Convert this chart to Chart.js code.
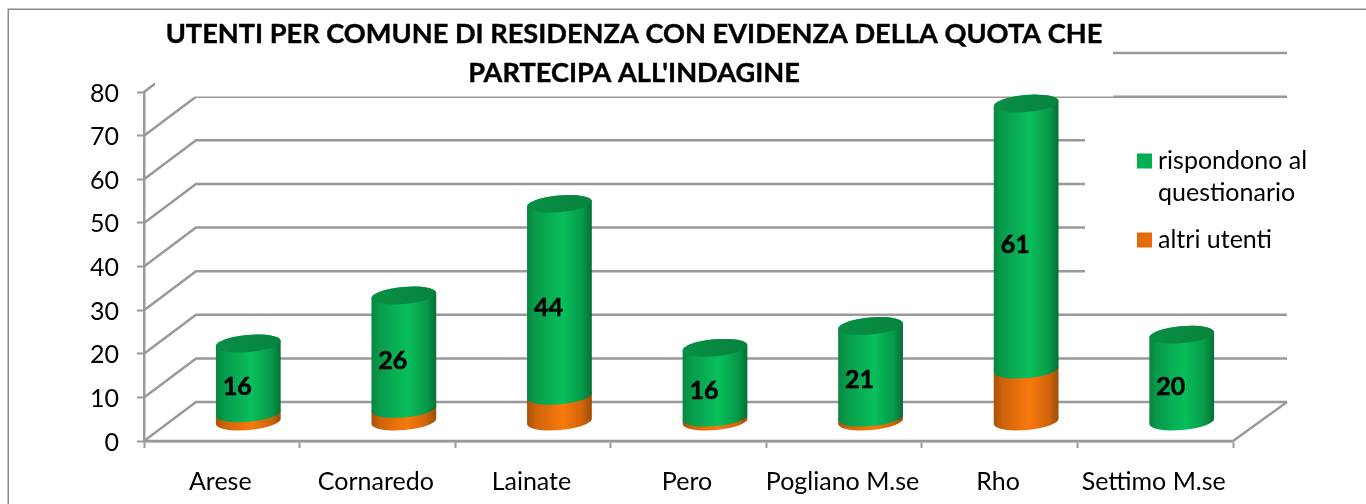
<!DOCTYPE html>
<html><head><meta charset="utf-8">
<style>html,body{margin:0;padding:0;background:#fff;overflow:hidden}canvas{display:block}</style>
<script src="https://cdn.jsdelivr.net/npm/chart.js@4"></script></head>
<body><canvas id="c" width="1366" height="504"></canvas>
<script>
const categories=["Arese","Cornaredo","Lainate","Pero","Pogliano M.se","Rho","Settimo M.se"];
const altriUtenti=[2,3,6,1,1,12,0];
const rispondono=[16,26,44,16,21,61,20];
const titleLines=["UTENTI PER COMUNE DI RESIDENZA CON EVIDENZA DELLA QUOTA CHE","PARTECIPA ALL'INDAGINE"];
const legendLines=[["rispondono al","questionario"],["altri utenti"]];
const FONT='Lato, Carlito, "Open Sans", sans-serif';
const GRID='#999999';
const DX=52, DY=-39, RY=8.5, TILT=-5*Math.PI/180;

function grad(ctx,l,r,stops){const g=ctx.createLinearGradient(l,0,r,0);stops.forEach(s=>g.addColorStop(s[0],s[1]));return g;}
const greenStops=[[0,'#07853f'],[0.12,'#089a4b'],[0.55,'#08bf5b'],[0.85,'#069a49'],[1,'#056f35']];
const orangeStops=[[0,'#a9520a'],[0.15,'#d0640a'],[0.55,'#f9790c'],[0.85,'#d0640a'],[1,'#9c4c08']];

function segment(ctx,cx,rx,yBot,yTop,fill){
  ctx.beginPath();
  ctx.ellipse(cx,yBot,rx,RY,TILT,Math.PI,0,true);
  ctx.ellipse(cx,yTop,rx,RY,TILT,0,Math.PI,true);
  ctx.closePath();
  ctx.fillStyle=fill;ctx.fill();
}
function heavyText(ctx,s,x,y,w){
  ctx.lineWidth=w;ctx.strokeStyle='#000';ctx.lineJoin='round';
  ctx.strokeText(s,x,y);ctx.fillText(s,x,y);
}

const scene={
  id:'scene',
  beforeDatasetsDraw(chart){
    const ctx=chart.ctx,y=chart.scales.y,x=chart.scales.x;
    const L=x.left,R=x.right;
    ctx.save();
    // frame
    ctx.strokeStyle='#8a8a8a';ctx.lineWidth=1.5;ctx.strokeRect(8.25,9.25,1500,800);
    // walls and floor
    ctx.strokeStyle=GRID;ctx.lineWidth=2.5;
    y.ticks.forEach(t=>{
      const p=y.getPixelForValue(t.value);
      ctx.beginPath();ctx.moveTo(L,p);ctx.lineTo(L+DX,p+DY);ctx.lineTo(R+DX+2,p+DY);ctx.stroke();
    });
    const b=y.getPixelForValue(0);
    ctx.beginPath();ctx.moveTo(L,b);ctx.lineTo(R,b);ctx.lineTo(R+DX+2,b+DY);ctx.stroke();
    // title box and legend box hide what runs behind them
    ctx.fillStyle='#fff';
    ctx.fillRect(155,12,958,84.5);
    ctx.fillRect(1085,112,250,172);
    // cylinders
    const m0=chart.getDatasetMeta(0).data,m1=chart.getDatasetMeta(1).data;
    const d0=chart.data.datasets[0].data,d1=chart.data.datasets[1].data;
    const up=DY/2+0.5;
    m0.forEach((e0,i)=>{
      const e1=m1[i],cx=e0.x+DX/2+0.5,rx=e0.width/2;
      const l=cx-rx,r=cx+rx;
      if(d0[i]>0) segment(ctx,cx,rx,e0.base+up,e0.y+up,grad(ctx,l,r,orangeStops));
      segment(ctx,cx,rx,e1.base+up,e1.y+up,grad(ctx,l,r,greenStops));
      ctx.beginPath();ctx.ellipse(cx,e1.y+up,rx,RY,TILT,0,Math.PI*2);
      ctx.fillStyle=grad(ctx,l,r,[[0,'#078f45'],[1,'#07833e']]);ctx.fill();
      // value label
      ctx.fillStyle='#000';ctx.font='bold 25px '+FONT;ctx.textAlign='center';ctx.textBaseline='middle';
      heavyText(ctx,String(d1[i]),cx-11,(e1.base+e1.y)/2+up+8.5,0.5);
    });
    // title
    ctx.fillStyle='#000';ctx.font='bold 27.2px '+FONT;ctx.textAlign='center';ctx.textBaseline='middle';
    titleLines.forEach((s,i)=>heavyText(ctx,s,634,34+39*i,0.4));
    // legend
    const ds=[chart.data.datasets[1],chart.data.datasets[0]];
    ctx.textAlign='left';ctx.font='25px '+FONT;
    let ly=161;
    legendLines.forEach((lines,i)=>{
      ctx.fillStyle=ds[i].backgroundColor;ctx.fillRect(1137,ly-7.5,15,15);
      ctx.fillStyle='#000';
      lines.forEach((s,j)=>ctx.fillText(s,1158,ly+32*j));
      ly+=79;
    });
    ctx.restore();
    return false;
  }
};

new Chart(document.getElementById('c'),{
  type:'bar',
  data:{labels:categories,datasets:[
    {label:'altri utenti',data:altriUtenti,backgroundColor:'#e46c0a',barThickness:65},
    {label:'rispondono al questionario',data:rispondono,backgroundColor:'#00b050',barThickness:65}
  ]},
  options:{
    responsive:false,animation:false,devicePixelRatio:1,
    layout:{padding:{top:92,right:133,left:0,bottom:0}},
    plugins:{legend:{display:false},title:{display:false},tooltip:{enabled:false}},
    scales:{
      x:{stacked:true,
        afterFit(s){s.height=63;},
        border:{color:GRID,width:2.5},
        grid:{drawOnChartArea:false,drawTicks:true,tickLength:7,tickWidth:2,tickColor:GRID},
        ticks:{color:'#000',font:{family:FONT,size:25},padding:19,maxRotation:0,autoSkip:false,labelOffset:-1.5}},
      y:{stacked:true,min:0,max:80,
        afterFit(s){s.width=144;},
        border:{color:GRID,width:2.5},
        grid:{drawOnChartArea:false,drawTicks:true,tickLength:7,tickWidth:2,tickColor:GRID},
        ticks:{stepSize:10,color:'#000',font:{family:FONT,size:25},padding:18,labelOffset:1.5}}
    }
  },
  plugins:[scene]
});
</script></body></html>
